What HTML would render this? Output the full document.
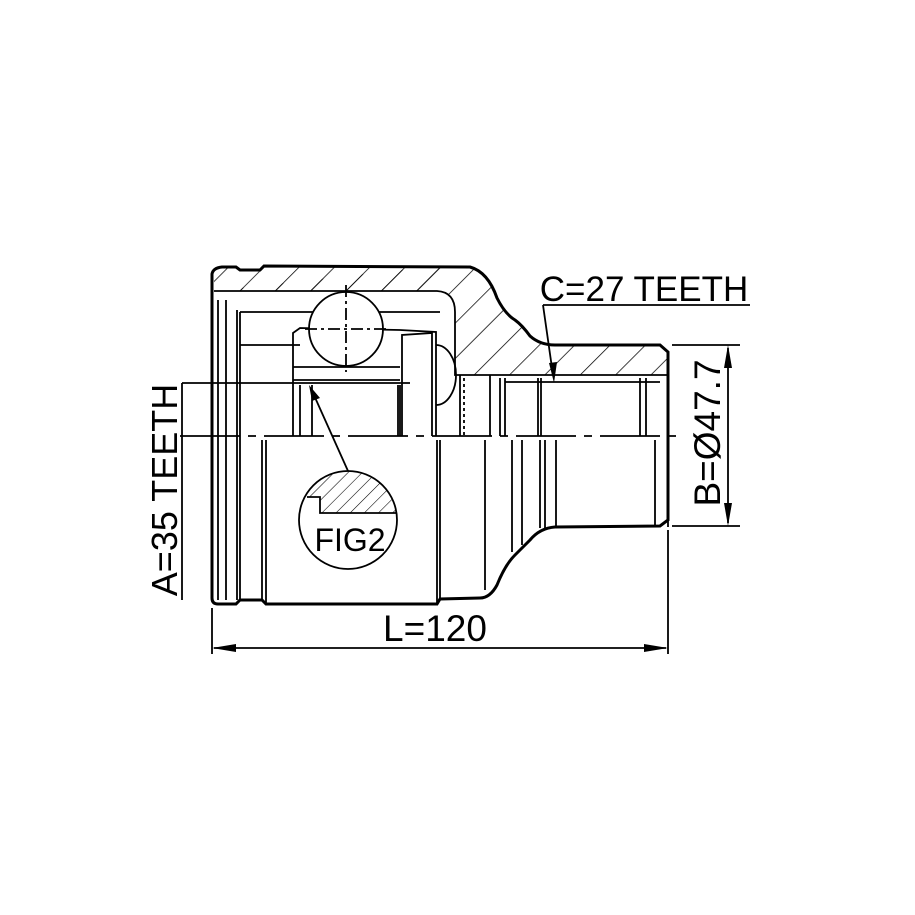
<!DOCTYPE html>
<html><head><style>html,body{margin:0;padding:0;background:#fff}svg{display:block}</style></head><body>
<svg width="915" height="915" viewBox="0 0 915 915" xmlns="http://www.w3.org/2000/svg">
<defs>
<pattern id="h" patternUnits="userSpaceOnUse" width="25" height="25" patternTransform="rotate(45)">
<line x1="0" y1="0" x2="0" y2="25" stroke="#000" stroke-width="1.5"/></pattern>
<pattern id="h2" patternUnits="userSpaceOnUse" width="10" height="10" patternTransform="rotate(45)">
<line x1="0" y1="0" x2="0" y2="10" stroke="#000" stroke-width="1.1"/></pattern>
</defs>
<rect width="915" height="915" fill="#fff"/>
<g fill="none" stroke="#000" stroke-width="1.8">
<path d="M214,291 L437,291 Q455,292 455,312 L455,375 L668,375 L668,352 L660,345 L555,345 Q540,345 530,336 Q522,325 515,320 Q505,314 497,298 Q488,272 470,268 L437,266 Z" fill="url(#h)" stroke="none"/>
<rect x="214" y="267" width="230" height="24" fill="url(#h)" stroke="none"/>
<path d="M222,267 L236,267 L240,270 L260,270 L264,266 L470,267 Q488,272 497,298 Q505,314 515,320 Q522,325 530,336 Q540,345 555,345 L660,345 L668,352 L668,520 L660,526 L555,527 Q540,528 530,540 Q522,548 515,555 Q505,565 497,585 Q490,598 480,598 L440,599 L437,604 L266,604 L262,600 L240,600 L236,604 L218,604 Q212,604 212,598 L212,274 Q213,268 222,267 Z" stroke-width="3" fill="none"/>
<path d="M214,291 L437,291 Q455,292 455,312 L455,375 L668,375"/>
<line x1="240" y1="312" x2="440" y2="312"/>
<line x1="240" y1="345" x2="300" y2="345"/>
<line x1="218" y1="300" x2="218" y2="600"/>
<line x1="226" y1="300" x2="226" y2="600"/>
<line x1="237" y1="310" x2="237" y2="600"/>
<line x1="240" y1="312" x2="240" y2="600"/>
<line x1="262" y1="440" x2="262" y2="600"/>
<line x1="266" y1="440" x2="266" y2="604"/>
<line x1="437" y1="440" x2="437" y2="604"/>
<line x1="440" y1="440" x2="440" y2="600"/>
<line x1="485" y1="440" x2="485" y2="590"/>
<line x1="512" y1="440" x2="512" y2="552"/>
<line x1="522" y1="440" x2="522" y2="545"/>
<line x1="540" y1="440" x2="540" y2="528"/>
<line x1="545" y1="440" x2="545" y2="528"/>
<line x1="556" y1="440" x2="556" y2="527"/>
<line x1="655" y1="440" x2="655" y2="525"/>
<line x1="668" y1="352" x2="668" y2="527"/>
<path d="M293,436 L293,333 L300,328 L400,330 L436,332 L436,436"/>
<line x1="293" y1="367" x2="400" y2="367"/>
<line x1="293" y1="380" x2="400" y2="380"/>
<line x1="300" y1="385" x2="300" y2="436"/>
<line x1="312" y1="385" x2="312" y2="436"/>
<line x1="398" y1="385" x2="398" y2="436"/>
<line x1="400" y1="385" x2="400" y2="436"/>
<path d="M402,436 L402,335 L432,333 L432,436"/>
<path d="M436,345 A20,30 0 0 1 436,405"/>
<circle cx="346" cy="329" r="37" fill="#fff"/>
<line x1="346" y1="285" x2="346" y2="372" stroke-dasharray="12,4,3,4"/>
<line x1="305" y1="329" x2="387" y2="329" stroke-dasharray="12,4,3,4"/>
<line x1="460" y1="375" x2="460" y2="436"/>
<line x1="464" y1="378" x2="464" y2="436" stroke-dasharray="3,3"/>
<line x1="490" y1="375" x2="490" y2="436"/>
<line x1="500" y1="378" x2="500" y2="436"/>
<line x1="505" y1="378" x2="505" y2="436"/>
<line x1="538" y1="378" x2="538" y2="436"/>
<line x1="541" y1="378" x2="541" y2="436"/>
<line x1="640" y1="378" x2="640" y2="436"/>
<line x1="646" y1="378" x2="646" y2="436"/>
<line x1="505" y1="382" x2="660" y2="382"/>
<line x1="180" y1="436" x2="680" y2="436" stroke-dasharray="60,8,8,8"/>
<circle cx="348" cy="520" r="49" fill="#fff"/>
<path d="M320,480 A49,49 0 0 1 397,513 L320,513 L320,497 L307,497 A49,49 0 0 1 320,480 Z" fill="url(#h2)" stroke="none"/>
<path d="M307,497 L320,497 L320,513 L397,513"/>
<line x1="348" y1="471" x2="313" y2="393"/>
<line x1="182" y1="383" x2="410" y2="383"/>
<line x1="182" y1="383" x2="182" y2="600"/>
<line x1="543" y1="305" x2="750" y2="305"/>
<line x1="543" y1="305" x2="553" y2="375"/>
<line x1="212" y1="608" x2="212" y2="654"/>
<line x1="668" y1="530" x2="668" y2="654"/>
<line x1="214" y1="648" x2="666" y2="648"/>
<line x1="672" y1="345" x2="740" y2="345"/>
<line x1="672" y1="526" x2="740" y2="526"/>
<line x1="728" y1="348" x2="728" y2="523"/>
</g>
<g fill="#000">
<polygon points="212,648 236,644 236,652"/>
<polygon points="668,648 644,644 644,652"/>
<polygon points="728,345 724,368 732,368"/>
<polygon points="728,526 724,503 732,503"/>
<polygon points="309,385 320,398 312,401"/>
<polygon points="554,383 549,363 557,362"/>
</g>
<g font-family="Liberation Sans, sans-serif" fill="#000">
<text x="435" y="641" font-size="37" text-anchor="middle">L=120</text>
<text x="644" y="301" font-size="35" text-anchor="middle">C=27 TEETH</text>
<text x="350" y="551" font-size="32" text-anchor="middle">FIG2</text>
<text transform="translate(177,490) rotate(-90)" font-size="36" text-anchor="middle">A=35 TEETH</text>
<text transform="translate(720,433) rotate(-90)" font-size="37" text-anchor="middle">B=Ø47.7</text>
</g>
</svg>
</body></html>
